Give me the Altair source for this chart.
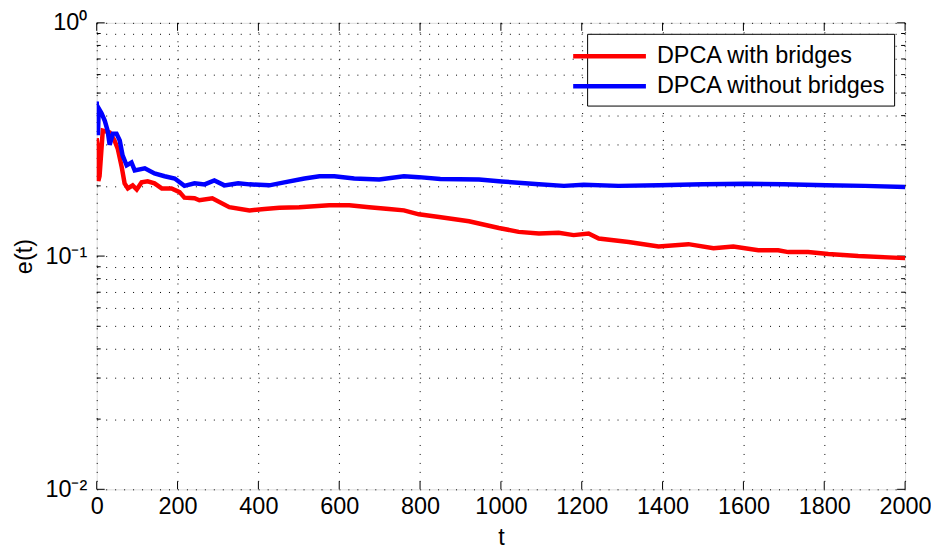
import altair as alt
import pandas as pd

# ---- data ----
blue_t = [0, 3, 5, 12, 20, 27, 32, 40, 49, 57, 64, 74, 86, 94, 119, 143, 168, 193, 217, 242,
          267, 291, 316, 350, 378, 427, 464, 514, 551, 588, 637, 699, 760, 797, 850, 946, 1002,
          1094, 1156, 1205, 1291, 1390, 1500, 1605, 1700, 1805, 1900, 2000]
blue_v = [0.46, 0.33, 0.43, 0.41, 0.38, 0.345, 0.30, 0.335, 0.335, 0.313, 0.27, 0.245, 0.252,
          0.233, 0.238, 0.226, 0.22, 0.215, 0.200, 0.205, 0.203, 0.211, 0.201, 0.205, 0.203,
          0.201, 0.207, 0.215, 0.220, 0.220, 0.215, 0.213, 0.220, 0.218, 0.214, 0.213, 0.209,
          0.203, 0.200, 0.202, 0.200, 0.201, 0.203, 0.204, 0.203, 0.201, 0.200, 0.198]

red_t = [0, 2, 4, 7, 15, 32, 44, 52, 62, 69, 77, 89, 99, 111, 126, 143, 161, 185, 205, 217,
         242, 254, 286, 328, 378, 415, 452, 501, 575, 625, 674, 723, 760, 797, 847, 921, 995,
         1044, 1094, 1143, 1180, 1217, 1242, 1316, 1390, 1464, 1526, 1575, 1637, 1686, 1711,
         1760, 1810, 1884, 2000]
red_v = [0.32, 0.30, 0.21, 0.22, 0.345, 0.339, 0.313, 0.289, 0.240, 0.205, 0.195, 0.201, 0.193,
         0.207, 0.209, 0.205, 0.195, 0.195, 0.188, 0.178, 0.177, 0.1735, 0.177, 0.162, 0.157,
         0.159, 0.161, 0.162, 0.165, 0.165, 0.162, 0.159, 0.157, 0.151, 0.147, 0.141, 0.132,
         0.127, 0.125, 0.126, 0.123, 0.125, 0.119, 0.115, 0.110, 0.1125, 0.108, 0.110, 0.106,
         0.106, 0.104, 0.104, 0.102, 0.100, 0.098]

series_names = ["DPCA with bridges", "DPCA without bridges"]
series_colors = ["#ff0000", "#0000ff"]

x_ticks = [0, 200, 400, 600, 800, 1000, 1200, 1400, 1600, 1800, 2000]
y_major = [0.01, 0.1, 1]
y_minor = [0.02, 0.03, 0.04, 0.05, 0.06, 0.07, 0.08, 0.09,
           0.2, 0.3, 0.4, 0.5, 0.6, 0.7, 0.8, 0.9]

W, H = 811, 468
FONT = "Liberation Sans"
FS = 23.5

df = pd.concat([
    pd.DataFrame({"t": red_t, "v": red_v, "series": series_names[0], "order": range(len(red_t))}),
    pd.DataFrame({"t": blue_t, "v": blue_v, "series": series_names[1], "order": range(len(blue_t))}),
])

xscale = alt.Scale(domain=[0, 2000], nice=False, zero=False)
yscale = alt.Scale(type="log", domain=[0.01, 1], nice=False)

grid_dash = [1, 8]

lines = alt.Chart(df).mark_line(strokeWidth=4.5, clip=True).encode(
    x=alt.X("t:Q", scale=xscale, title="t",
            axis=alt.Axis(values=x_ticks, format="d", labelOverlap=False, labelFlush=False,
                          grid=True, gridDash=grid_dash, gridColor="#000000",
                          gridOpacity=1, ticks=False, domain=False, labelFontSize=FS,
                          labelFont=FONT, labelColor="black", labelPadding=5,
                          titleFontSize=FS, titleFont=FONT, titleFontWeight="normal",
                          titleColor="black", titlePadding=8)),
    y=alt.Y("v:Q", scale=yscale, title="e(t)",
            axis=alt.Axis(values=y_major + y_minor, grid=True, gridDash=grid_dash,
                          gridColor="#000000", gridOpacity=1, ticks=False, domain=False,
                          labelOverlap=False, labelFlush=False,
                          labelExpr="datum.value == 1 ? '10⁰' : (datum.value == 0.1 ? '10⁻¹' : (datum.value == 0.01 ? '10⁻²' : ''))",
                          labelFontSize=FS, labelFont=FONT, labelColor="black", labelPadding=10,
                          titleFontSize=FS, titleFont=FONT, titleFontWeight="normal",
                          titleColor="black", titlePadding=8)),
    color=alt.Color("series:N", scale=alt.Scale(domain=series_names, range=series_colors),
                    legend=alt.Legend(title=None, orient="top-right", offset=11,
                                      strokeColor="black", fillColor="white", padding=8,
                                      symbolType="M-3.5,0M-3.04,0H3.04", symbolStrokeWidth=4.5,
                                      symbolSize=576, labelFontSize=FS, labelFont=FONT,
                                      labelColor="black", labelOffset=33, labelLimit=0,
                                      rowPadding=4)),
    order="order:Q",
)

xt = pd.DataFrame({"t": x_ticks})
ymj = pd.DataFrame({"v": y_major})
ymn = pd.DataFrame({"v": y_minor})

xticks_bottom = alt.Chart(xt).mark_rule(color="black", strokeWidth=1).encode(
    x=alt.X("t:Q", scale=xscale), y=alt.value(H), y2=alt.value(H - 8))
xticks_top = alt.Chart(xt).mark_rule(color="black", strokeWidth=1).encode(
    x=alt.X("t:Q", scale=xscale), y=alt.value(0), y2=alt.value(8))
ymaj_left = alt.Chart(ymj).mark_rule(color="black", strokeWidth=1).encode(
    y=alt.Y("v:Q", scale=yscale), x=alt.value(0), x2=alt.value(8))
ymaj_right = alt.Chart(ymj).mark_rule(color="black", strokeWidth=1).encode(
    y=alt.Y("v:Q", scale=yscale), x=alt.value(W), x2=alt.value(W - 8))
ymin_left = alt.Chart(ymn).mark_rule(color="black", strokeWidth=1).encode(
    y=alt.Y("v:Q", scale=yscale), x=alt.value(0), x2=alt.value(4))
ymin_right = alt.Chart(ymn).mark_rule(color="black", strokeWidth=1).encode(
    y=alt.Y("v:Q", scale=yscale), x=alt.value(W), x2=alt.value(W - 4))

chart = alt.layer(
    xticks_bottom, xticks_top, ymaj_left, ymaj_right, ymin_left, ymin_right, lines
).properties(
    width=W, height=H,
    autosize=alt.AutoSizeParams(type="none"),
    padding={"left": 89, "top": 14, "right": 26, "bottom": 64},
).configure_view(
    stroke="black", strokeWidth=1.5
).configure(background="white")

chart.save("out.html", embed_options={"renderer": "svg", "actions": False})
